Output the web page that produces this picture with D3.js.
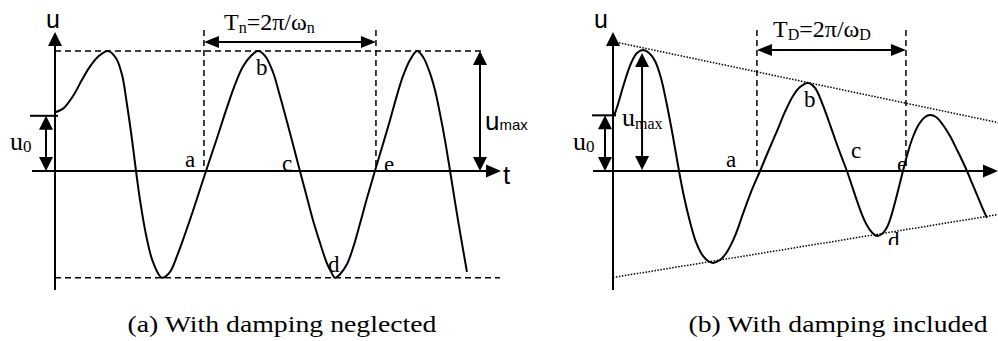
<!DOCTYPE html>
<html>
<head>
<meta charset="utf-8">
<script src="https://cdn.jsdelivr.net/npm/d3@7"></script>
<style>
  html, body { margin: 0; padding: 0; background: #fff; }
  svg { display: block; }
</style>
</head>
<body>
<svg id="chart" width="998" height="341"></svg>
<script>
// Free vibration of a single-degree-of-freedom system.
// Time is measured in periods, displacement in units of the first peak.

// (a) damping neglected
const tA = [0, 0.047, 0.105, 0.157, 0.203, 0.256, 0.308,
            0.355, 0.390, 0.419, 0.448, 0.471, 0.494, 0.529, 0.570, 0.622,
            0.669, 0.709, 0.756, 0.802, 0.878,
            0.942, 1.0, 1.052, 1.093, 1.140, 1.180,
            1.221, 1.267, 1.308, 1.349, 1.384, 1.424,
            1.465, 1.5, 1.541, 1.581, 1.605, 1.628,
            1.657, 1.698, 1.733, 1.773, 1.814, 1.860,
            1.907, 1.948, 1.988, 2.023, 2.064, 2.105,
            2.140, 2.174, 2.209, 2.238, 2.267, 2.297,
            2.343, 2.395];
const uA = [0.49, 0.52, 0.625, 0.76, 0.87, 0.96, 1.0,
            0.94, 0.80, 0.55, 0.26, 0, -0.24, -0.53, -0.76, -0.89,
            -0.84, -0.71, -0.525, -0.333, 0,
            0.275, 0.53, 0.74, 0.87, 0.96, 1.0,
            0.96, 0.825, 0.625, 0.41, 0.22, 0,
            -0.22, -0.41, -0.60, -0.77, -0.84, -0.89,
            -0.86, -0.775, -0.64, -0.44, -0.225, 0,
            0.225, 0.425, 0.63, 0.79, 0.925, 1.0,
            0.95, 0.84, 0.675, 0.48, 0.26, 0,
            -0.41, -0.84];
const u0A = 0.46;
const uMaxA = 1.0;
const uMinA = -0.89;
const periodMarksA = [0.866, 1.866];      // points a and e

// (b) damping included
const tB = [0.007, 0.034, 0.067, 0.101, 0.128, 0.161, 0.201,
            0.242, 0.282, 0.322, 0.362, 0.403, 0.443,
            0.477, 0.517, 0.557, 0.604, 0.638, 0.671,
            0.718, 0.765, 0.819, 0.872, 0.926, 0.987,
            1.040, 1.101, 1.154, 1.208, 1.255, 1.309,
            1.356, 1.403, 1.450, 1.497, 1.537, 1.570, 1.604, 1.638, 1.671, 1.705, 1.738, 1.772,
            1.805, 1.839, 1.872, 1.906, 1.946,
            1.980, 2.013, 2.054, 2.094, 2.128,
            2.168, 2.215, 2.262, 2.309, 2.342, 2.376, 2.409, 2.443, 2.477, 2.510];
const uB = [0.455, 0.554, 0.694, 0.826, 0.909, 0.975, 1.0,
            0.975, 0.909, 0.769, 0.545, 0.281, 0,
            -0.215, -0.421, -0.587, -0.702, -0.744, -0.760,
            -0.736, -0.669, -0.537, -0.355, -0.174, 0,
            0.157, 0.331, 0.488, 0.620, 0.694, 0.727,
            0.686, 0.562, 0.405, 0.240, 0.107, 0, -0.124, -0.248, -0.360, -0.450, -0.508, -0.537,
            -0.521, -0.465, -0.352, -0.196, 0,
            0.157, 0.281, 0.388, 0.446, 0.463,
            0.446, 0.380, 0.289, 0.174, 0.091, 0, -0.099, -0.198, -0.298, -0.388];
const u0B = 0.46;
const tPeakB = 0.195;
const periodMarksB = [0.966, 1.966];
// decay envelope, sampled at its two ends
const envT = [0, 2.584];
const envUpper = [1.07, 0.40];
const envLower = [-0.88, -0.36];

const captions = ["(a) With damping neglected", "(b) With damping included"];

const SERIF = "'Liberation Serif', 'Times New Roman', serif";
const SANS = "'Liberation Sans', Arial, sans-serif";
const svg = d3.select("#chart");

// ---------- drawing helpers ----------
function seg(g, x1, y1, x2, y2, opts = {}) {
  return g.append("line")
    .attr("x1", x1).attr("y1", y1).attr("x2", x2).attr("y2", y2)
    .attr("stroke", "#000")
    .attr("stroke-width", opts.w || 2)
    .attr("stroke-dasharray", opts.dash || null);
}
// filled triangle with its tip at (x, y), pointing along angle (degrees)
function head(g, x, y, angle, len = 14, half = 7) {
  g.append("path")
    .attr("d", `M0,0L${-len},${-half}L${-len},${half}Z`)
    .attr("transform", `translate(${x},${y}) rotate(${angle})`)
    .attr("fill", "#000");
}
function vArrow(g, x, yTop, yBot, len = 14, half = 7) {
  seg(g, x, yTop + len - 1, x, yBot - len + 1, { w: 2 });
  head(g, x, yTop, -90, len, half);
  head(g, x, yBot, 90, len, half);
}
function hArrow(g, x1, x2, y, len = 15, half = 6) {
  seg(g, x1 + len - 1, y, x2 - len + 1, y, { w: 2 });
  head(g, x1, y, 180, len, half);
  head(g, x2, y, 0, len, half);
}
// text built from [string, size, dy] runs
function label(g, x, y, runs, family = SERIF, anchor = "start") {
  const t = g.append("text")
    .attr("x", x).attr("y", y)
    .attr("font-family", family)
    .attr("text-anchor", anchor)
    .attr("fill", "#000");
  runs.forEach(([s, size, dy]) => {
    t.append("tspan").attr("font-size", size).attr("dy", dy || 0).text(s);
  });
  return t;
}
const curve = (x, y) => d3.line()
  .x(d => x(d[0])).y(d => y(d[1]))
  .curve(d3.curveCatmullRom.alpha(0.5));

// ---------- panel (a) ----------
{
  const g = svg.append("g");
  const x = d3.scaleLinear().domain([0, 1]).range([55, 227]);
  const y = d3.scaleLinear().domain([0, 1]).range([171, 51]);
  const x0 = x(0), y0 = y(0);

  // reference levels
  seg(g, x0, y(uMaxA), 483, y(uMaxA), { w: 1.5, dash: "6,4" });
  seg(g, x0, y(uMinA), 500, y(uMinA), { w: 1.5, dash: "6,4" });
  periodMarksA.forEach(t => seg(g, x(t), 30, x(t), y0, { w: 1.5, dash: "6,4" }));

  // axes
  seg(g, x0, 290, x0, 45, { w: 2 });
  head(g, x0, 32, -90, 14, 7);
  seg(g, 32, y0, 487, y0, { w: 2 });
  head(g, 501, y0, 0, 15, 6.5);

  // u0 marker
  seg(g, 30, y(u0A), x0 + 3, y(u0A), { w: 2 });
  vArrow(g, 46, y(u0A), y0);

  // response
  g.append("path")
    .datum(d3.zip(tA, uA))
    .attr("d", curve(x, y))
    .attr("fill", "none").attr("stroke", "#000").attr("stroke-width", 2);

  // period and amplitude arrows
  hArrow(g, x(periodMarksA[0]), x(periodMarksA[1]), 42);
  vArrow(g, 480, y(uMaxA), y0);

  // labels
  label(g, 53, 28, [["u", 25]], SANS, "middle");
  label(g, 503, 184, [["t", 26]], SANS);
  label(g, 485, 130, [["u", 26], ["max", 15]], SANS);
  label(g, 10, 150, [["u", 26], ["0", 17, 2]]);
  label(g, 224, 30, [["T", 24], ["n", 16, 3], ["=2π/ω", 24, -3], ["n", 16, 3]]);
  label(g, 185, 167, [["a", 23]]);
  label(g, 256, 75, [["b", 23]]);
  label(g, 282, 171, [["c", 23]]);
  label(g, 328, 272, [["d", 23]]);
  label(g, 384, 172, [["e", 23]]);
  label(g, 282, 332, [[captions[0], 24]], SERIF, "middle")
    .attr("textLength", 309).attr("lengthAdjust", "spacingAndGlyphs");
}

// ---------- panel (b) ----------
{
  const g = svg.append("g");
  const x = d3.scaleLinear().domain([0, 1]).range([613, 762]);
  const y = d3.scaleLinear().domain([0, 1]).range([171, 50]);
  const x0 = x(0), y0 = y(0);

  // decay envelope
  [envUpper, envLower].forEach(env => {
    g.append("path")
      .datum(d3.zip(envT, env))
      .attr("d", d3.line().x(d => x(d[0])).y(d => y(d[1])))
      .attr("fill", "none").attr("stroke", "#000")
      .attr("stroke-width", 1.5).attr("stroke-dasharray", "1.5,1.5");
  });
  periodMarksB.forEach(t => seg(g, x(t), 30, x(t), y0, { w: 1.5, dash: "6,4" }));

  // axes
  seg(g, x0, 290, x0, 45, { w: 2 });
  head(g, x0, 32, -90, 14, 7);
  seg(g, 593, y0, 984, y0, { w: 2 });
  head(g, 998, y0, 0, 15, 6.5);

  // u0 marker
  seg(g, 592, y(u0B), x0 + 3, y(u0B), { w: 2 });
  vArrow(g, 605, y(u0B), y0);

  // response
  g.append("path")
    .datum(d3.zip(tB, uB))
    .attr("d", curve(x, y))
    .attr("fill", "none").attr("stroke", "#000").attr("stroke-width", 2);

  // period and amplitude arrows
  hArrow(g, x(periodMarksB[0]), x(periodMarksB[1]), 50);
  vArrow(g, x(tPeakB), y(1) + 3, y0 - 1);

  // labels
  label(g, 601, 28, [["u", 25]], SANS, "middle");
  label(g, 573, 150, [["u", 26], ["0", 17, 2]]);
  label(g, 622, 126, [["u", 26], ["max", 16, 3]]);
  label(g, 773, 37, [["T", 24], ["D", 16, 3], ["=2π/ω", 24, -3], ["D", 16, 3]]);
  label(g, 726, 167, [["a", 23]]);
  label(g, 804, 107, [["b", 23]]);
  label(g, 851, 158, [["c", 23]]);
  label(g, 897, 172, [["e", 23]]);
  // the d under the second trough is trimmed at the bottom
  g.append("clipPath").attr("id", "clipD")
    .append("rect").attr("x", 880).attr("y", 220).attr("width", 40).attr("height", 25);
  label(g, 888, 248, [["d", 23]]).attr("clip-path", "url(#clipD)");
  label(g, 838, 332, [[captions[1], 24]], SERIF, "middle")
    .attr("textLength", 299).attr("lengthAdjust", "spacingAndGlyphs");
}
</script>
</body>
</html>
